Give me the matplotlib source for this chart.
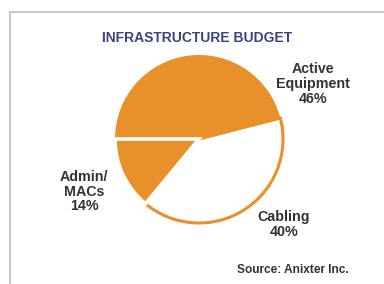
import matplotlib
matplotlib.use("Agg")
import matplotlib.pyplot as plt
from matplotlib.lines import Line2D

categories = ["Active\nEquipment", "Cabling", "Admin/\nMACs"]
values = [46, 40, 14]
title = "INFRASTRUCTURE BUDGET"
source = "Source: Anixter Inc."

ORANGE = "#E8902A"
TEXT = "#333333"
TITLE_C = "#3D4283"
FONT = ["Liberation Sans", "DejaVu Sans"]

W, H = 384, 284
fig = plt.figure(figsize=(W / 100, H / 100), dpi=100)
ax = fig.add_axes([0, 0, 1, 1])
ax.set_xlim(0, W)
ax.set_ylim(0, H)
ax.set_aspect("equal")
ax.axis("off")

# frame lines (top and left)
fig.add_artist(Line2D([9.5 / W, 1.0], [1 - 12 / H, 1 - 12 / H], color="#c5cbca", lw=1.5))
fig.add_artist(Line2D([9.5 / W, 9.5 / W], [0, 1 - 12 / H], color="#c5cbca", lw=1.5))

cx, cy, r = 199, H - 139, 84
wedges, _ = ax.pie(values, colors=[ORANGE, "white", ORANGE], startangle=180,
                   counterclock=False, center=(cx, cy), radius=r,
                   wedgeprops=dict(linewidth=0))
wedges[0].set_zorder(2)
wedges[1].set_edgecolor(ORANGE)
wedges[1].set_linewidth(2.2)
wedges[1].set_zorder(3)
wedges[2].set_edgecolor("white")
wedges[2].set_linewidth(2.6)
wedges[2].set_zorder(4)
ax.set_xlim(0, W)
ax.set_ylim(0, H)

ax.text(197, H - 38.5, title, ha="center", va="center", fontsize=10,
        fontweight="bold", color=TITLE_C, family=FONT)

labels = [f"{c}\n{v}%" for c, v in zip(categories, values)]
pos = [(313, H - 84), (284, H - 224.5), (84, H - 191.5)]
for lab, (x, y) in zip(labels, pos):
    ax.text(x, y, lab, ha="center", va="center", fontsize=10.3, fontweight="bold",
            color=TEXT, family=FONT, linespacing=1.05)

ax.text(349, H - 270, source, ha="right", va="center", fontsize=8.6,
        fontweight="bold", color=TEXT, family=FONT)

fig.savefig("out.png", dpi=100)
